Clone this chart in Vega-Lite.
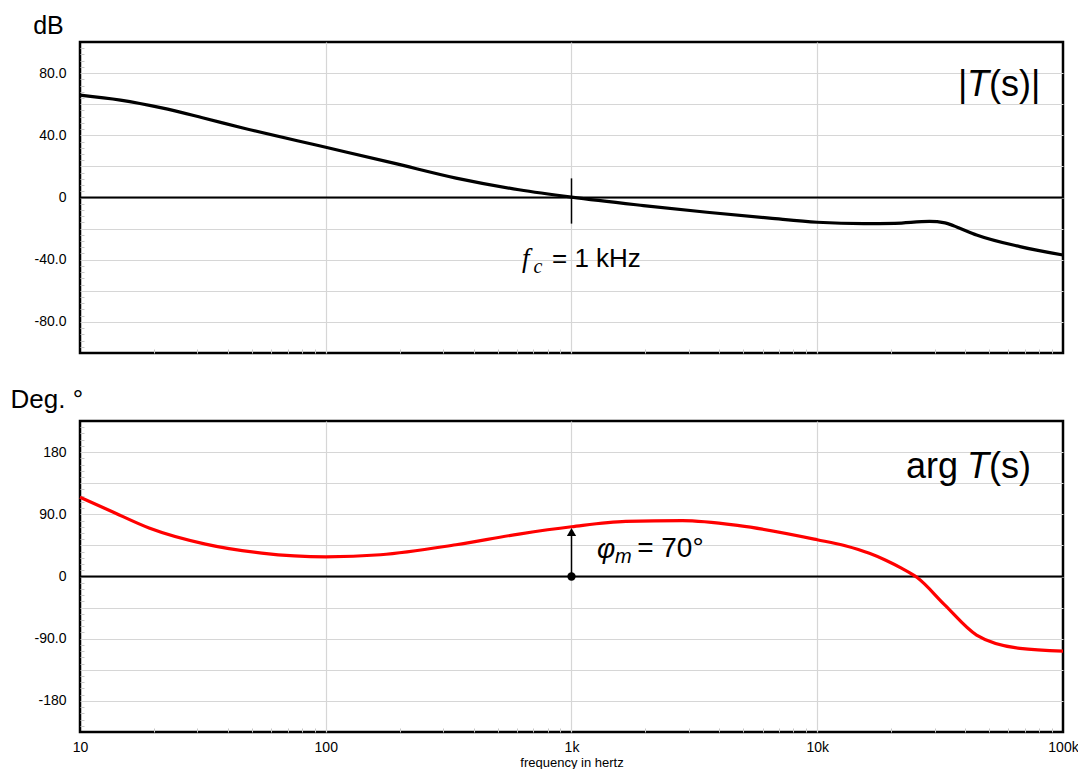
{
  "$schema": "https://vega.github.io/schema/vega-lite/v6.json",
  "background": "white",
  "padding": {"left": 8, "top": 11, "right": 5, "bottom": 5},
  "bounds": "flush",
  "spacing": 68,
  "config": {
    "view": {"stroke": "black", "strokeWidth": 2.5},
    "font": "Liberation Sans",
    "axis": {"labelFont": "Liberation Sans", "labelFontSize": 14, "labelColor": "black", "gridColor": "#d6d6d6", "gridWidth": 1.2, "domain": false, "titleFont": "Liberation Sans", "titleColor": "black"}
  },
  "vconcat": [
    {
      "width": 983,
      "height": 311,
      "resolve": {"axis": {"x": "independent", "y": "independent"}},
      "layer": [
        {
          "data": {"values": [
            {"f": 10, "db": 65.8}, {"f": 14.6, "db": 62.6}, {"f": 21.5, "db": 57.6}, {"f": 31.5, "db": 51.3}, {"f": 46, "db": 44.7}, {"f": 100, "db": 32.3},
            {"f": 189, "db": 22.1}, {"f": 339, "db": 12.5}, {"f": 611, "db": 5.0}, {"f": 1000, "db": 0.2},
            {"f": 1963, "db": -5.2}, {"f": 3556, "db": -9.5}, {"f": 6400, "db": -13.3}, {"f": 10000, "db": -15.9},
            {"f": 15450, "db": -16.8}, {"f": 20700, "db": -16.6}, {"f": 28600, "db": -15.4}, {"f": 33100, "db": -16.3},
            {"f": 38000, "db": -19.8}, {"f": 44500, "db": -24.1}, {"f": 66800, "db": -31.6}, {"f": 100000, "db": -37}
          ]},
          "mark": {"type": "line", "color": "black", "strokeWidth": 3.2, "interpolate": "monotone"},
          "encoding": {
            "x": {"field": "f", "type": "quantitative",
              "scale": {"type": "log", "domain": [10, 100000], "nice": false},
              "axis": {"orient": "bottom", "values": [10, 100, 1000, 10000, 100000], "grid": true, "labels": false, "ticks": false, "title": null,
                "gridOpacity": {"condition": {"test": "datum.value == 10 || datum.value == 100000", "value": 0}, "value": 1}}},
            "y": {"field": "db", "type": "quantitative",
              "scale": {"domain": [-100, 100], "nice": false},
              "axis": {"orient": "left", "values": [-100, -80, -60, -40, -20, 0, 20, 40, 60, 80, 100], "grid": true, "ticks": false, "labelPadding": 14,
                "gridOpacity": {"condition": {"test": "abs(datum.value) == 100", "value": 0}, "value": 1},
                "labelExpr": "datum.value % 40 == 0 ? (datum.value == 0 ? '0' : replace(format(datum.value, '.1f'), '−', '-')) : ''",
                "title": "dB", "titleAngle": 0, "titleFontSize": 25, "titleFontWeight": "normal", "titleAlign": "center", "titleBaseline": "alphabetic", "titleX": -32, "titleY": -9}}
          }
        },
        {
          "data": {"values": [{"v": 0}]},
          "mark": {"type": "rule", "color": "black", "strokeWidth": 2},
          "encoding": {"y": {"field": "v", "type": "quantitative", "axis": null}}
        },
        {
          "data": {"values": [{"f": 1000, "hi": 12.3, "lo": -16.8}]},
          "mark": {"type": "rule", "color": "black", "strokeWidth": 1.5},
          "encoding": {
            "x": {"field": "f", "type": "quantitative",
              "axis": {"orient": "bottom", "values": [20,30,40,50,60,70,80,90,200,300,400,500,600,700,800,900,2000,3000,4000,5000,6000,7000,8000,9000,20000,30000,40000,50000,60000,70000,80000,90000],
                "grid": false, "labels": false, "ticks": true, "tickSize": -4, "tickColor": "#c8c8c8", "title": null}},
            "y": {"field": "hi", "type": "quantitative",
              "axis": {"orient": "left", "values": [-96,-92,-88,-84,-76,-72,-68,-64,-56,-52,-48,-44,-36,-32,-28,-24,-16,-12,-8,-4,4,8,12,16,24,28,32,36,44,48,52,56,64,68,72,76,84,88,92,96],
                "grid": false, "labels": false, "ticks": true, "tickSize": -4, "tickColor": "#c8c8c8", "title": null}},
            "y2": {"field": "lo"}
          }
        },
        {
          "data": {"values": [{"f": 629, "db": -44.5, "t": "f"}]},
          "mark": {"type": "text", "font": "Liberation Serif", "fontStyle": "italic", "fontSize": 27, "align": "left", "baseline": "alphabetic", "color": "black"},
          "encoding": {"x": {"field": "f", "type": "quantitative", "axis": null}, "y": {"field": "db", "type": "quantitative", "axis": null}, "text": {"field": "t"}}
        },
        {
          "data": {"values": [{"f": 700, "db": -48.6, "t": "c"}]},
          "mark": {"type": "text", "font": "Liberation Serif", "fontStyle": "italic", "fontSize": 20, "align": "left", "baseline": "alphabetic", "color": "black"},
          "encoding": {"x": {"field": "f", "type": "quantitative", "axis": null}, "y": {"field": "db", "type": "quantitative", "axis": null}, "text": {"field": "t"}}
        },
        {
          "data": {"values": [{"f": 833, "db": -44.5, "t": "= 1 kHz"}]},
          "mark": {"type": "text", "font": "Liberation Sans", "fontSize": 26, "align": "left", "baseline": "alphabetic", "color": "black"},
          "encoding": {"x": {"field": "f", "type": "quantitative", "axis": null}, "y": {"field": "db", "type": "quantitative", "axis": null}, "text": {"field": "t"}}
        },
        {
          "data": {"values": [{"f": 37400, "db": 65.1, "t": "|"}]},
          "mark": {"type": "text", "font": "Liberation Sans", "fontSize": 36, "align": "left", "baseline": "alphabetic", "color": "black"},
          "encoding": {"x": {"field": "f", "type": "quantitative", "axis": null}, "y": {"field": "db", "type": "quantitative", "axis": null}, "text": {"field": "t"}}
        },
        {
          "data": {"values": [{"f": 40680, "db": 65.1, "t": "T"}]},
          "mark": {"type": "text", "font": "Liberation Sans", "fontStyle": "italic", "fontSize": 36, "align": "left", "baseline": "alphabetic", "color": "black"},
          "encoding": {"x": {"field": "f", "type": "quantitative", "axis": null}, "y": {"field": "db", "type": "quantitative", "axis": null}, "text": {"field": "t"}}
        },
        {
          "data": {"values": [{"f": 50000, "db": 65.1, "t": "(s)|"}]},
          "mark": {"type": "text", "font": "Liberation Sans", "fontSize": 36, "align": "left", "baseline": "alphabetic", "color": "black"},
          "encoding": {"x": {"field": "f", "type": "quantitative", "axis": null}, "y": {"field": "db", "type": "quantitative", "axis": null}, "text": {"field": "t"}}
        }
      ]
    },
    {
      "width": 983,
      "height": 311,
      "resolve": {"axis": {"x": "independent", "y": "independent"}},
      "layer": [
        {
          "data": {"values": [{"v": 0}]},
          "mark": {"type": "rule", "color": "black", "strokeWidth": 2},
          "encoding": {"y": {"field": "v", "type": "quantitative", "scale": {"domain": [-225, 225], "nice": false}, "axis": null}}
        },
        {
          "data": {"values": [
            {"f": 10, "deg": 114.7}, {"f": 13.4, "deg": 94.4}, {"f": 19.1, "deg": 70.2}, {"f": 32.4, "deg": 46.9},
            {"f": 54.9, "deg": 33.9}, {"f": 100, "deg": 28.5}, {"f": 167, "deg": 31.5}, {"f": 339, "deg": 46},
            {"f": 611, "deg": 61.4}, {"f": 1000, "deg": 72}, {"f": 1663, "deg": 79.8}, {"f": 2826, "deg": 80.8},
            {"f": 4810, "deg": 73.6}, {"f": 10000, "deg": 53.2}, {"f": 13000, "deg": 44.5}, {"f": 16300, "deg": 33.5}, {"f": 19000, "deg": 23.5}, {"f": 22000, "deg": 12},
            {"f": 25500, "deg": -1.5}, {"f": 33000, "deg": -41}, {"f": 44500, "deg": -84.7}, {"f": 66800, "deg": -104},
            {"f": 100000, "deg": -107.9}
          ]},
          "mark": {"type": "line", "color": "#ff0000", "strokeWidth": 3.2, "interpolate": "monotone"},
          "encoding": {
            "x": {"field": "f", "type": "quantitative",
              "scale": {"type": "log", "domain": [10, 100000], "nice": false},
              "axis": {"orient": "bottom", "values": [10, 100, 1000, 10000, 100000], "grid": true, "labels": true, "ticks": false, "labelPadding": 8, "labelFlush": false,
                "gridOpacity": {"condition": {"test": "datum.value == 10 || datum.value == 100000", "value": 0}, "value": 1},
                "labelExpr": "format(datum.value, '~s')",
                "title": "frequency in hertz", "titleFontSize": 13, "titleFontWeight": "normal", "titlePadding": 2}},
            "y": {"field": "deg", "type": "quantitative",
              "scale": {"domain": [-225, 225], "nice": false},
              "axis": {"orient": "left", "values": [-225, -180, -135, -90, -45, 0, 45, 90, 135, 180, 225], "grid": true, "ticks": false, "labelPadding": 14,
                "gridOpacity": {"condition": {"test": "abs(datum.value) == 225", "value": 0}, "value": 1},
                "labelExpr": "datum.value % 90 == 0 ? (abs(datum.value) == 90 ? replace(format(datum.value, '.1f'), '−', '-') : replace('' + datum.value, '−', '-')) : ''",
                "title": "Deg. °", "titleAngle": 0, "titleFontSize": 26, "titleFontWeight": "normal", "titleAlign": "left", "titleBaseline": "alphabetic", "titleX": -70, "titleY": -14}}
          }
        },
        {
          "data": {"values": [{"f": 1000, "lo": 0, "hi": 60}]},
          "mark": {"type": "rule", "color": "black", "strokeWidth": 1.5},
          "encoding": {
            "x": {"field": "f", "type": "quantitative",
              "axis": {"orient": "bottom", "values": [20,30,40,50,60,70,80,90,200,300,400,500,600,700,800,900,2000,3000,4000,5000,6000,7000,8000,9000,20000,30000,40000,50000,60000,70000,80000,90000],
                "grid": false, "labels": false, "ticks": true, "tickSize": -4, "tickColor": "#c8c8c8", "title": null}},
            "y": {"field": "lo", "type": "quantitative",
              "axis": {"orient": "left", "values": [-216,-207,-198,-189,-171,-162,-153,-144,-126,-117,-108,-99,-81,-72,-63,-54,-36,-27,-18,-9,9,18,27,36,54,63,72,81,99,108,117,126,144,153,162,171,189,198,207,216],
                "grid": false, "labels": false, "ticks": true, "tickSize": -4, "tickColor": "#c8c8c8", "title": null}},
            "y2": {"field": "hi"}
          }
        },
        {
          "data": {"values": [{"f": 1000, "deg": 64.5}]},
          "mark": {"type": "point", "shape": "triangle-up", "filled": true, "color": "black", "size": 85, "opacity": 1},
          "encoding": {"x": {"field": "f", "type": "quantitative", "axis": null}, "y": {"field": "deg", "type": "quantitative", "axis": null}}
        },
        {
          "data": {"values": [{"f": 1000, "deg": 0}]},
          "mark": {"type": "point", "shape": "circle", "filled": true, "color": "black", "size": 70, "opacity": 1},
          "encoding": {"x": {"field": "f", "type": "quantitative", "axis": null}, "y": {"field": "deg", "type": "quantitative", "axis": null}}
        },
        {
          "data": {"values": [{"f": 1270, "deg": 26.1, "t": "φ"}]},
          "mark": {"type": "text", "font": "Liberation Sans", "fontStyle": "italic", "fontSize": 28, "align": "left", "baseline": "alphabetic", "color": "black"},
          "encoding": {"x": {"field": "f", "type": "quantitative", "axis": null}, "y": {"field": "deg", "type": "quantitative", "axis": null}, "text": {"field": "t"}}
        },
        {
          "data": {"values": [{"f": 1503, "deg": 18.9, "t": "m"}]},
          "mark": {"type": "text", "font": "Liberation Sans", "fontStyle": "italic", "fontSize": 20, "align": "left", "baseline": "alphabetic", "color": "black"},
          "encoding": {"x": {"field": "f", "type": "quantitative", "axis": null}, "y": {"field": "deg", "type": "quantitative", "axis": null}, "text": {"field": "t"}}
        },
        {
          "data": {"values": [{"f": 1850, "deg": 27.6, "t": "= 70°"}]},
          "mark": {"type": "text", "font": "Liberation Sans", "fontSize": 28, "align": "left", "baseline": "alphabetic", "color": "black"},
          "encoding": {"x": {"field": "f", "type": "quantitative", "axis": null}, "y": {"field": "deg", "type": "quantitative", "axis": null}, "text": {"field": "t"}}
        },
        {
          "data": {"values": [{"f": 37400, "deg": 143, "t": "arg"}]},
          "mark": {"type": "text", "font": "Liberation Sans", "fontSize": 36, "align": "right", "baseline": "alphabetic", "color": "black"},
          "encoding": {"x": {"field": "f", "type": "quantitative", "axis": null}, "y": {"field": "deg", "type": "quantitative", "axis": null}, "text": {"field": "t"}}
        },
        {
          "data": {"values": [{"f": 40680, "deg": 143, "t": "T"}]},
          "mark": {"type": "text", "font": "Liberation Sans", "fontStyle": "italic", "fontSize": 36, "align": "left", "baseline": "alphabetic", "color": "black"},
          "encoding": {"x": {"field": "f", "type": "quantitative", "axis": null}, "y": {"field": "deg", "type": "quantitative", "axis": null}, "text": {"field": "t"}}
        },
        {
          "data": {"values": [{"f": 50000, "deg": 143, "t": "(s)"}]},
          "mark": {"type": "text", "font": "Liberation Sans", "fontSize": 36, "align": "left", "baseline": "alphabetic", "color": "black"},
          "encoding": {"x": {"field": "f", "type": "quantitative", "axis": null}, "y": {"field": "deg", "type": "quantitative", "axis": null}, "text": {"field": "t"}}
        }
      ]
    }
  ]
}
